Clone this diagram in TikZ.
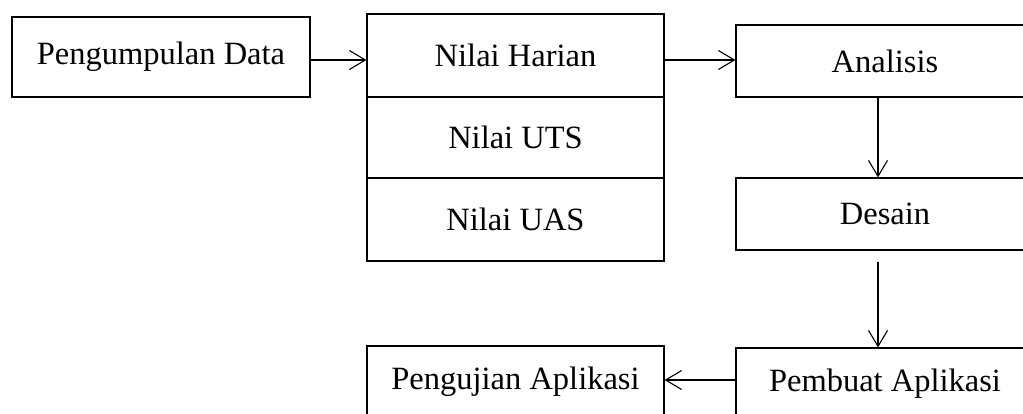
\documentclass[tikz,border=0pt]{standalone}
\usepackage{fontspec}
\setmainfont{Liberation Serif}
\usetikzlibrary{arrows.meta}
\begin{document}
\begin{tikzpicture}[x=1pt,y=-1pt,
  line width=1.1pt,
  box/.style={draw, inner sep=0pt, minimum width=298pt, minimum height=72pt,
    font=\fontsize{32.5}{38}\selectfont},
  arr/.style={-{Straight Barb[length=16pt,width=19pt,line width=1.1pt]}}]
  \useasboundingbox (0,0) rectangle (1023,413);
  \clip (0,0) rectangle (1023,413);

  % left: data collection
  \node[box, minimum height=80pt] (pd) at (161,57) {Pengumpulan Data};

  % stacked score sources
  \node[box, minimum width=297pt, minimum height=83pt] (nh) at (515.5,55.5) {Nilai Harian};
  \node[box, minimum width=297pt, minimum height=81pt] (nu) at (515.5,137.5) {Nilai UTS};
  \node[box, minimum width=297pt, minimum height=83pt] (na) at (515.5,219.5) {Nilai UAS};

  % development stages
  \node[box] (an) at (885,61) {Analisis};
  \node[box] (de) at (885,214) {Desain};
  \node[box] (pa) at (885,384) {Pembuat Aplikasi};
  \node[box, minimum width=297pt] (pj) at (515.5,382) {Pengujian Aplikasi};

  % guide coordinates for the connectors
  \coordinate (row) at (0,60);
  \coordinate (low) at (0,380);
  \coordinate (vx) at (878,0);
  \coordinate (ds) at (878,262);

  \draw[arr] (pd.east |- row) -- (nh.west |- row);
  \draw[arr] (nh.east |- row) -- (an.west |- row);
  \draw[arr] (an.south -| vx) -- (de.north -| vx);
  \draw[arr] (ds) -- (pa.north -| vx);
  \draw[arr] (pa.west |- low) -- (pj.east |- low);
\end{tikzpicture}
\end{document}
